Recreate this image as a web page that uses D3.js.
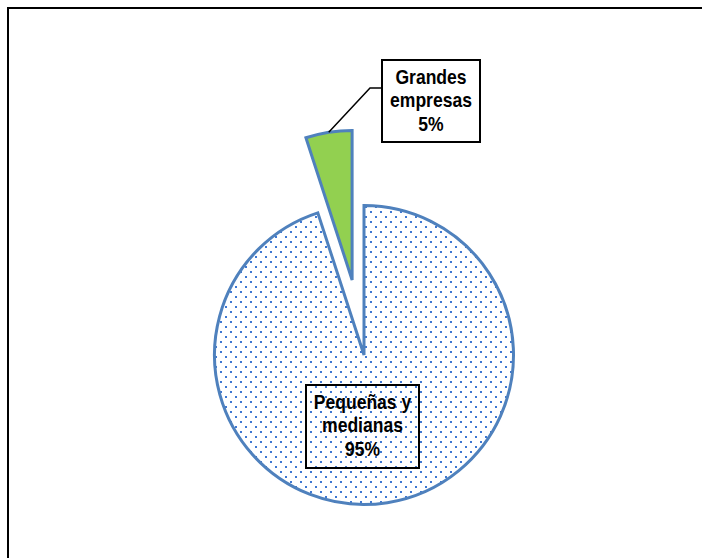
<!DOCTYPE html>
<html>
<head>
<meta charset="utf-8">
<script src="https://cdn.jsdelivr.net/npm/d3@7"></script>
<style>
  html, body { margin: 0; padding: 0; background: #fff; }
  svg { display: block; }
</style>
</head>
<body>
<svg id="chart" width="702" height="558"></svg>
<script>
// ---- data ----
const categories = ["Pequeñas y medianas", "Grandes empresas"];
const values = [95, 5];
const labelLines = [["Pequeñas y", "medianas", "95%"], ["Grandes", "empresas", "5%"]];
const exploded = [false, true];

// ---- layout ----
const W = 702, H = 558;
const cx = 364, cy = 355, R = 149.5;
const explodeDist = 76;
const blue = "#4f81bd";
const dotColor = "#3f78d2";

const svg = d3.select("#chart");

const defs = svg.append("defs");
const pat = defs.append("pattern")
  .attr("id", "dots")
  .attr("patternUnits", "userSpaceOnUse")
  .attr("width", 10).attr("height", 10);
pat.append("rect").attr("width", 10).attr("height", 10).attr("fill", "#fff");
pat.append("rect").attr("x", 1).attr("y", 1).attr("width", 2).attr("height", 2).attr("fill", dotColor);
pat.append("rect").attr("x", 6).attr("y", 6).attr("width", 2).attr("height", 2).attr("fill", dotColor);

// chart border (extends off the right & bottom)
svg.append("rect")
  .attr("x", 8).attr("y", 8).attr("width", 900).attr("height", 900)
  .attr("fill", "none").attr("stroke", "#000").attr("stroke-width", 2);

const data = categories.map((c, i) => ({ cat: c, value: values[i], lines: labelLines[i], exploded: exploded[i] }));

const pie = d3.pie().sort(null).value(d => d.value);
const arcs = pie(data);
const arc = d3.arc().innerRadius(0).outerRadius(R);

const fills = ["url(#dots)", "#92d050"];

const g = svg.append("g").attr("transform", `translate(${cx},${cy})`);

g.selectAll("path.slice")
  .data(arcs)
  .join("path")
  .attr("class", "slice")
  .attr("d", arc)
  .attr("transform", d => {
    if (!d.data.exploded) return null;
    const a = (d.startAngle + d.endAngle) / 2;
    return `translate(${Math.sin(a) * explodeDist},${-Math.cos(a) * explodeDist})`;
  })
  .attr("fill", (d, i) => fills[i])
  .attr("stroke", blue)
  .attr("stroke-width", 3)
  .attr("stroke-linejoin", "miter");

// labels
const boxes = [
  { x: 306, y: 385, w: 113, h: 83 },
  { x: 382, y: 60, w: 98, h: 82 }
];

// leader line for the small slice
const small = arcs[1];
{
  const a = (small.startAngle + small.endAngle) / 2;
  const ox = cx + Math.sin(a) * explodeDist, oy = cy - Math.cos(a) * explodeDist;
  const px = ox + Math.sin(a) * R, py = oy - Math.cos(a) * R;
  const b = boxes[1];
  svg.append("path")
    .attr("d", `M${b.x},${b.y + 28} L${b.x - 12},${b.y + 28} L${px},${py}`)
    .attr("fill", "none").attr("stroke", "#000").attr("stroke-width", 1.5);
}

const labels = svg.selectAll("g.lbl")
  .data(arcs)
  .join("g")
  .attr("class", "lbl");

labels.each(function(d, i) {
  const b = boxes[i];
  const sel = d3.select(this);
  sel.append("rect")
    .attr("x", b.x).attr("y", b.y).attr("width", b.w).attr("height", b.h)
    .attr("fill", i === 0 ? "none" : "#fff")
    .attr("stroke", "#000").attr("stroke-width", 2);
  const t = sel.append("g")
    .attr("transform", `translate(${b.x + b.w / 2},0) scale(0.9,1)`)
    .append("text")
    .attr("text-anchor", "middle")
    .attr("font-family", "Liberation Sans, Arial, sans-serif")
    .attr("font-weight", "bold")
    .attr("font-size", 19.5)
    .attr("fill", "#000");
  d.data.lines.forEach((ln, k) => {
    t.append("tspan")
      .attr("x", 0)
      .attr("y", b.y + 24 + k * 23.5)
      .text(ln);
  });
});
</script>
</body>
</html>
